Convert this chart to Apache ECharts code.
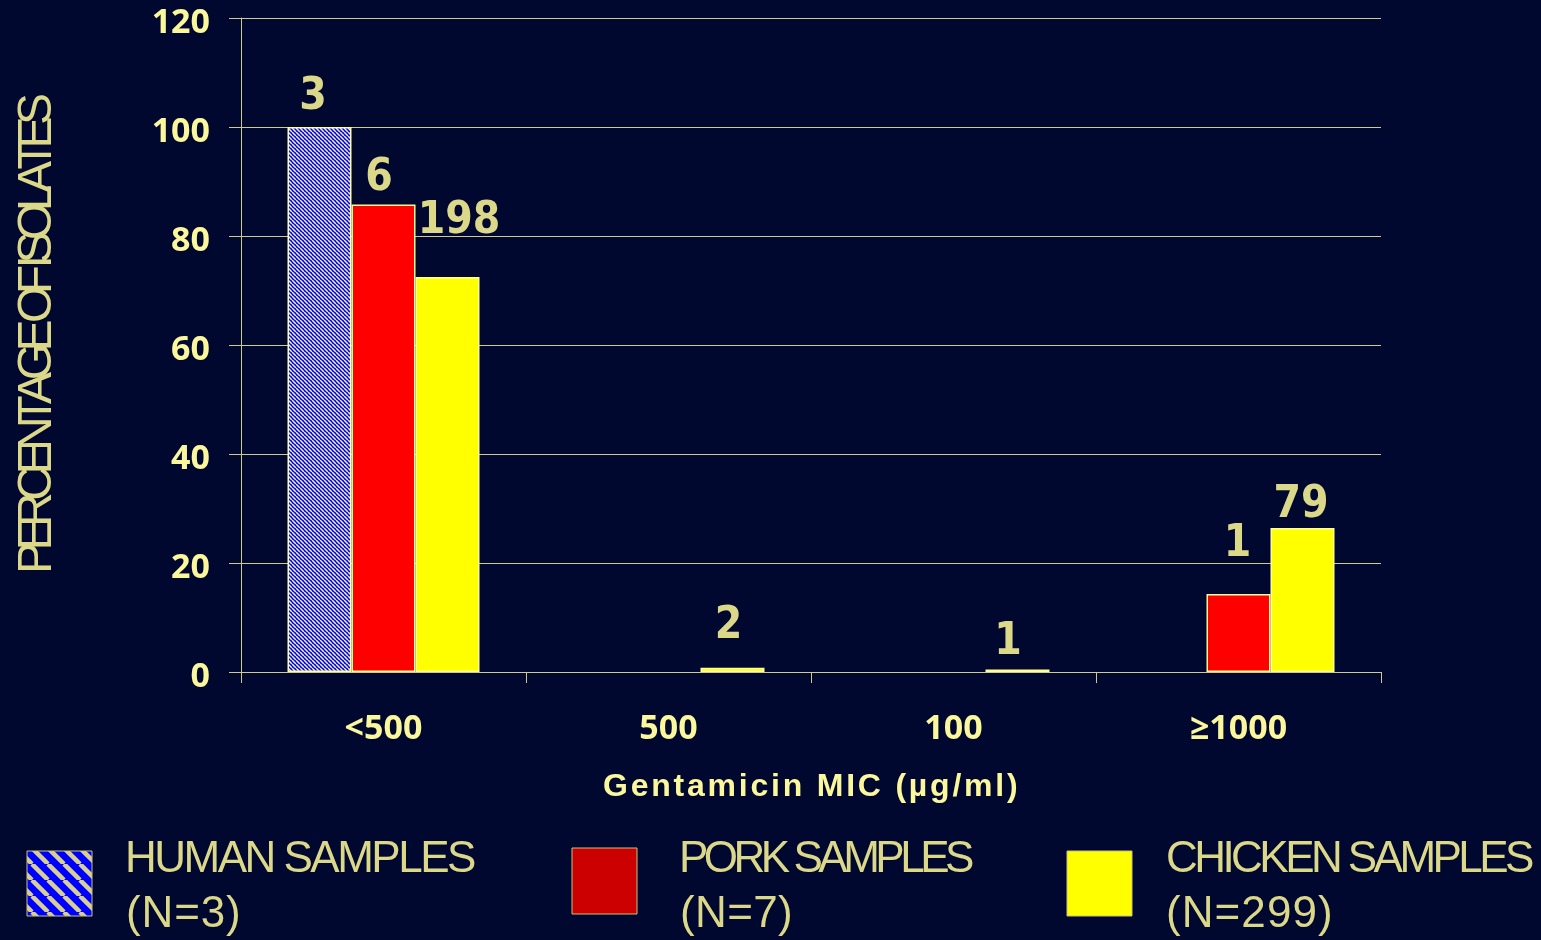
<!DOCTYPE html>
<html>
<head>
<meta charset="utf-8">
<script src="https://cdn.jsdelivr.net/npm/echarts@6/dist/echarts.min.js"></script>
<style>
  html, body { margin: 0; padding: 0; background: #00082f; }
  #chart { width: 1541px; height: 940px; }
</style>
</head>
<body>
<div id="chart"></div>
<script>
// ---- data ----
const categories = ['<500', '500', '100', '≥1000'];
const humanPct   = [100, 0, 0, 0];
const porkPct    = [85.8, 0, 0, 14.3];
const chickenPct = [72.5, 0.8, 0.45, 26.4];
const humanCounts   = [3, null, null, null];
const porkCounts    = [6, null, null, 1];
const chickenCounts = [198, 2, 1, 79];
const seriesNames = ['HUMAN SAMPLES', 'PORK SAMPLES', 'CHICKEN SAMPLES'];
const sampleSizes = ['(N=3)', '(N=7)', '(N=299)'];
const yAxisTitle = 'PERCENTAGE OF ISOLATES';
const xAxisTitle = 'Gentamicin MIC (µg/ml)';

// ---- styling ----
const BG = '#00082f';
const BRIGHT = '#fbf79c';
const MUTED = '#dcd88a';
const LINE = '#cfcb90';
const BAR_EDGE = '#ffff99';
const TICK_FONT = '"Open Sans", "Noto Sans", sans-serif';

// per-label nudges [dx, dy] for the count labels above the bars
const labelNudge = {
  human:   [[-6.5, -7], null, null, null],
  pork:    [[-4.5, -3.6], null, null, [-1, -27.3]],
  chicken: [[11.5, -33.7], [-4, -18.7], [-9.5, -4.7], [-1.5, -0.3]]
};

// diagonal hatch tile (blue with light "\" stripes)
function hatch(size, lineW, bg, fg) {
  const c = document.createElement('canvas');
  c.width = size; c.height = size;
  const ctx = c.getContext('2d');
  ctx.fillStyle = bg; ctx.fillRect(0, 0, size, size);
  ctx.strokeStyle = fg; ctx.lineWidth = lineW;
  for (let k = -size; k <= size; k += size) {
    ctx.beginPath(); ctx.moveTo(k, 0); ctx.lineTo(k + size, size); ctx.stroke();
  }
  return c;
}
const barHatch = { image: hatch(4, 1.5, '#0000ff', '#f0f0d8'), repeat: 'repeat' };
const keyHatch = { image: hatch(16, 4.5, '#0000ff', '#d8d090'), repeat: 'repeat' };

// text laid out letter by letter so the run fills a given ink width
const mctx = document.createElement('canvas').getContext('2d');
function fittedText(str, font, size, inkWidth, fill, inkLeft, baseline, rotation) {
  mctx.font = font;
  const chars = [...str];
  const m = chars.map(c => mctx.measureText(c));
  const w = m.map(t => t.width);
  const lb = -m[0].actualBoundingBoxLeft;
  const last = m[m.length - 1];
  const S = w.slice(0, -1).reduce((a, b) => a + b, 0);
  const natural = S + last.actualBoundingBoxRight - lb;
  const sp = chars.length > 1 ? (inkWidth - natural) / (chars.length - 1) : 0;
  let cx = 0;
  const children = chars.map((c, i) => {
    const el = {
      type: 'text', x: cx, y: -0.35 * size, silent: true,
      style: { text: c, font: font, fill: fill, align: 'left', verticalAlign: 'middle' }
    };
    cx += w[i] + sp;
    return el;
  });
  if (rotation) {
    // a quarter turn anticlockwise: the run goes upward from (baseline, inkLeft)
    return { type: 'group', x: baseline, y: inkLeft + lb, rotation: rotation, children, silent: true };
  }
  return { type: 'group', x: inkLeft - lb, y: baseline, children, silent: true };
}

function buildData(values, counts, nudges) {
  return values.map((v, i) => {
    if (!v) return null;
    const item = { value: v };
    if (nudges[i]) item.label = { offset: nudges[i] };
    return item;
  });
}

function countLabel(counts) {
  return {
    show: true, position: 'top', distance: 0,
    color: MUTED,
    fontFamily: '"DejaVu Sans Condensed", "DejaVu Sans", sans-serif',
    fontWeight: 'bold', fontSize: 44,
    formatter: p => (counts[p.dataIndex] == null ? '' : String(counts[p.dataIndex]))
  };
}

const legendFont = '44px "Liberation Sans", Arial, sans-serif';
const keys = [
  { fill: keyHatch,  rect: [27, 851, 65, 65],  text: 128,  w1: 347, w2: 110 },
  { fill: '#cc0000', rect: [572, 848, 65, 66], text: 682,  w1: 291, w2: 108 },
  { fill: '#ffff00', rect: [1067, 851, 65, 65], text: 1168, w1: 365, w2: 162 }
];
const graphics = [];
keys.forEach((k, i) => {
  graphics.push({
    type: 'rect', silent: true,
    shape: { x: k.rect[0], y: k.rect[1], width: k.rect[2], height: k.rect[3] },
    style: { fill: k.fill, stroke: '#c8c080', lineWidth: 1 }
  });
  graphics.push(fittedText(seriesNames[i], legendFont, 44, k.w1, MUTED, k.text, 875));
  graphics.push(fittedText(sampleSizes[i], legendFont, 44, k.w2, MUTED, k.text, 930));
});
graphics.push(fittedText(yAxisTitle, '48px "Liberation Sans", Arial, sans-serif', 48, 476, MUTED, 571, 55, Math.PI / 2));
graphics.push(fittedText(xAxisTitle, 'bold 32px "Liberation Sans", Arial, sans-serif', 32, 413, BRIGHT, 604, 798));

const chart = echarts.init(document.getElementById('chart'), null, { renderer: 'canvas' });
chart.setOption({
  animation: false,
  backgroundColor: BG,
  grid: { left: 241, right: 160, top: 18, bottom: 268 },
  xAxis: {
    type: 'category',
    data: categories,
    axisLine: { show: true, lineStyle: { color: LINE, width: 1 } },
    axisTick: { show: true, length: 11, lineStyle: { color: LINE, width: 1 } },
    axisLabel: {
      color: BRIGHT, fontSize: 34, fontWeight: 'bold',
      fontFamily: TICK_FONT, margin: 40
    },
    splitLine: { show: false }
  },
  yAxis: {
    type: 'value', min: 0, max: 120, interval: 20,
    axisLine: { show: true, lineStyle: { color: LINE, width: 1 } },
    axisTick: { show: true, length: 12, lineStyle: { color: LINE, width: 1 } },
    axisLabel: {
      margin: 31,
      formatter: v => '{t|' + v + '}',
      rich: {
        t: {
          color: BRIGHT, fontSize: 34, fontWeight: 'bold',
          fontFamily: TICK_FONT, padding: [10, 0, 0, 0]
        }
      }
    },
    splitLine: { show: true, lineStyle: { color: LINE, width: 1 } }
  },
  series: [
    {
      name: seriesNames[0], type: 'bar', barWidth: 64, barGap: '0%',
      itemStyle: { color: barHatch, borderColor: BAR_EDGE, borderWidth: 1.5 },
      label: countLabel(humanCounts),
      data: buildData(humanPct, humanCounts, labelNudge.human)
    },
    {
      name: seriesNames[1], type: 'bar', barWidth: 64, barGap: '0%',
      itemStyle: { color: '#ff0000', borderColor: BAR_EDGE, borderWidth: 1.5 },
      label: countLabel(porkCounts),
      data: buildData(porkPct, porkCounts, labelNudge.pork)
    },
    {
      name: seriesNames[2], type: 'bar', barWidth: 64, barGap: '0%',
      itemStyle: { color: '#ffff00', borderColor: BAR_EDGE, borderWidth: 1.5 },
      label: countLabel(chickenCounts),
      data: buildData(chickenPct, chickenCounts, labelNudge.chicken)
    }
  ],
  graphic: graphics
});
</script>
</body>
</html>
